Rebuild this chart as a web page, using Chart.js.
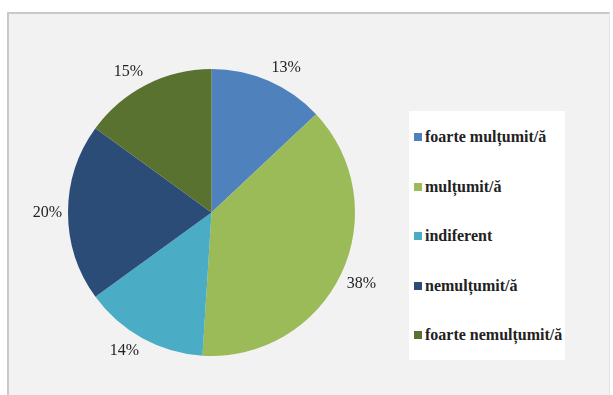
<!DOCTYPE html>
<html>
<head>
<meta charset="utf-8">
<script src="https://cdn.jsdelivr.net/npm/chart.js@4"></script>
<style>
  html, body { margin: 0; padding: 0; background: #fff; }
  body { width: 613px; height: 395px; position: relative; overflow: hidden; }
  #frame {
    position: absolute; left: 7px; top: 12px; width: 600px; height: 400px;
    background: #f2f2f2; border-left: 2px solid #c9c9c9; border-top: 2px solid #c9c9c9;
    border-right: 1px solid #e4e4e4;
  }
  #chart { position: absolute; left: 0; top: 0; }
  #legend {
    position: absolute; left: 409px; top: 111px; width: 156px; height: 249px;
    background: #fff; font-family: "Liberation Serif", "DejaVu Serif", serif;
    font-size: 16px; color: #222;
  }
  .item { position: absolute; left: 5px; white-space: nowrap; line-height: 16px; font-weight: 600; }
  .sw { display: inline-block; width: 8px; height: 8px; margin-right: 3px; vertical-align: 1px; }
</style>
</head>
<body>
<div id="frame"></div>
<canvas id="chart" width="613" height="395"></canvas>
<div id="legend"></div>
<script>
const categories = ['foarte mulțumit/ă', 'mulțumit/ă', 'indiferent', 'nemulțumit/ă', 'foarte nemulțumit/ă'];
const values = [13, 38, 14, 20, 15];
const colors = ['#4f81bd', '#9bbb59', '#4bacc6', '#2b4c77', '#5a7230'];

// legend as plain html, to sit in its white box
const legend = document.querySelector('#legend');
categories.forEach((c, i) => {
    const d = document.createElement('div');
    d.className = 'item';
    d.style.top = (18 + i * 49.5) + 'px';
    d.innerHTML = '<span class="sw" style="background:' + colors[i] + '"></span>' + c;
    legend.appendChild(d);
});

// percentage labels outside each slice, corner touching the rim (like excel's outside end)
const outsideLabels = {
    id: 'outsideLabels',
    afterDatasetsDraw(chart) {
        const ctx = chart.ctx;
        const meta = chart.getDatasetMeta(0);
        ctx.save();
        ctx.font = '16px "Liberation Serif", "DejaVu Serif", serif';
        ctx.fillStyle = '#222';
        ctx.textAlign = 'center';
        ctx.textBaseline = 'middle';
        meta.data.forEach((arc, i) => {
            const p = arc.getProps(['x', 'y', 'startAngle', 'endAngle', 'outerRadius'], true);
            const mid = (p.startAngle + p.endAngle) / 2;
            const dx = Math.cos(mid), dy = Math.sin(mid);
            const txt = values[i] + '%';
            const hw = ctx.measureText(txt).width / 2 + 1, hh = 8;
            const r = p.outerRadius + 5;
            const sx = Math.abs(dx) > 0.1 ? Math.sign(dx) * hw : 0;
            const sy = Math.abs(dy) > 0.1 ? Math.sign(dy) * hh : 0;
            ctx.fillText(txt, p.x + dx * r + sx, p.y + dy * r + sy);
        });
        ctx.restore();
    }
};

new Chart(document.querySelector('#chart'), {
    type: 'pie',
    data: {
        labels: categories,
        datasets: [{
            data: values,
            backgroundColor: colors,
            borderWidth: 0
        }]
    },
    options: {
        responsive: false,
        animation: false,
        layout: { padding: { left: 68, right: 258, top: 69, bottom: 39 } },
        plugins: {
            legend: { display: false },
            tooltip: { enabled: false }
        }
    },
    plugins: [outsideLabels]
});
</script>
</body>
</html>
